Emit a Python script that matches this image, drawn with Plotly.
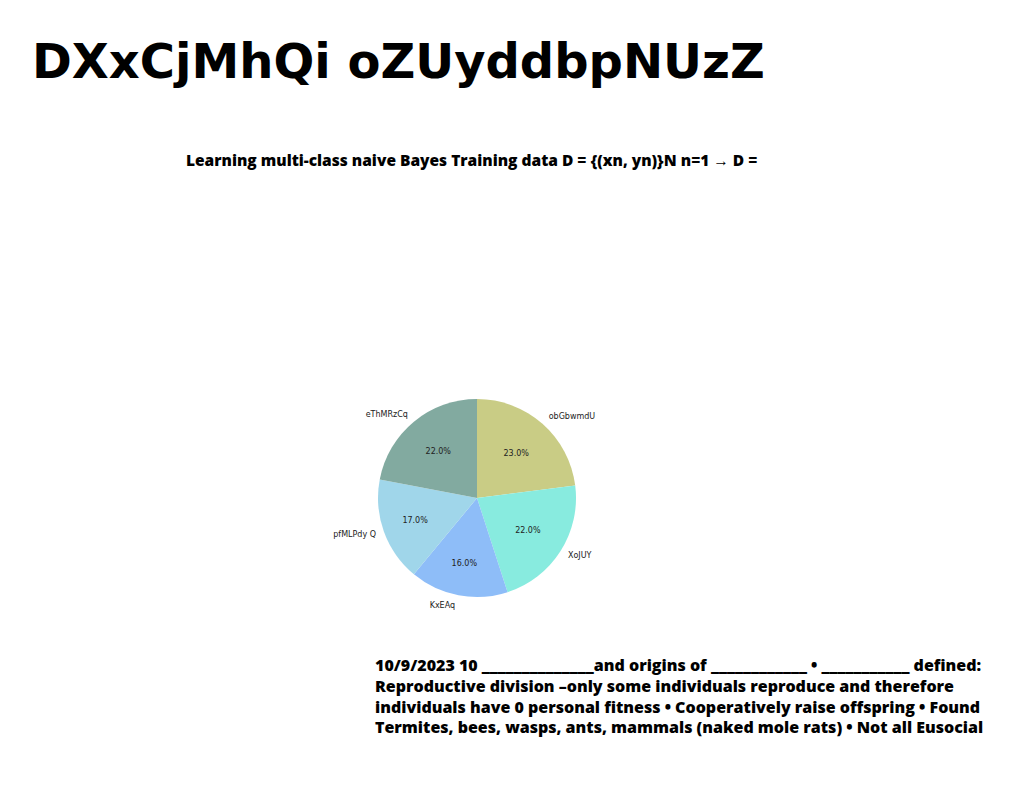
import plotly.graph_objects as go

labels = ["obGbwmdU", "XoJUY", "KxEAq", "pfMLPdy Q", "eThMRzCq"]
values = [23.0, 22.0, 16.0, 17.0, 22.0]
colors = ["#c9cc85", "#88ebdf", "#8ebdf8", "#a0d6ea", "#82aaa0"]

title_text = "DXxCjMhQi oZUyddbpNUzZ"
subtitle_text = "Learning multi-class naive Bayes Training data D = {(xn, yn)}N n=1 \u2192 D ="
body_lines = [
    "10/9/2023 10 ______________and origins of ____________ \u2022 ___________ defined:",
    "Reproductive division \u2013only some individuals reproduce and therefore",
    "individuals have 0 personal fitness \u2022 Cooperatively raise offspring \u2022 Found",
    "Termites, bees, wasps, ants, mammals (naked mole rats) \u2022 Not all Eusocial",
]

W, H = 1024, 788
cx, cy, r = 477, 498, 99

def dom(cx, cy, r):
    return dict(x=[(cx - r) / W, (cx + r) / W], y=[(H - cy - r) / H, (H - cy + r) / H])

fig = go.Figure()
fig.add_trace(go.Pie(
    labels=labels, values=values, sort=False, direction="clockwise", rotation=0,
    marker=dict(colors=colors, line=dict(width=0)),
    textinfo="percent", texttemplate="%{percent:.1%}", textposition="inside",
    insidetextorientation="horizontal",
    textfont=dict(family="DejaVu Sans", size=8, color="#222222"),
    domain=dom(cx, cy, r), showlegend=False, hoverinfo="label+percent",
))
fig.add_trace(go.Pie(
    labels=labels, values=values, sort=False, direction="clockwise", rotation=0,
    marker=dict(colors=["rgba(0,0,0,0)"] * len(labels), line=dict(width=0)),
    textinfo="label", textposition="outside",
    textfont=dict(family="DejaVu Sans", size=8, color="#222222"),
    outsidetextfont=dict(family="DejaVu Sans", size=8, color="#222222"),
    domain=dom(cx, cy, r + 6), showlegend=False, hoverinfo="skip",
))

fig.add_annotation(text="<b>" + title_text + "</b>", x=30 / W, y=1 - 61 / H, xref="paper", yref="paper",
                   xanchor="left", yanchor="middle", showarrow=False,
                   font=dict(family="DejaVu Sans", size=48, color="#000000"))
fig.add_annotation(text=subtitle_text, x=184 / W, y=1 - 160 / H, xref="paper", yref="paper",
                   xanchor="left", yanchor="middle", showarrow=False,
                   font=dict(family="Open Sans", size=15.5, weight=800, color="#000000"))
fig.add_annotation(text="<br>".join(body_lines), x=373 / W, y=1 - 696 / H, xref="paper", yref="paper",
                   xanchor="left", yanchor="middle", align="left", showarrow=False,
                   font=dict(family="Open Sans", size=16, weight=800, color="#000000"))

fig.update_layout(width=W, height=H, margin=dict(l=0, r=0, t=0, b=0),
                  paper_bgcolor="white", plot_bgcolor="white")
fig.write_html("out.html")
